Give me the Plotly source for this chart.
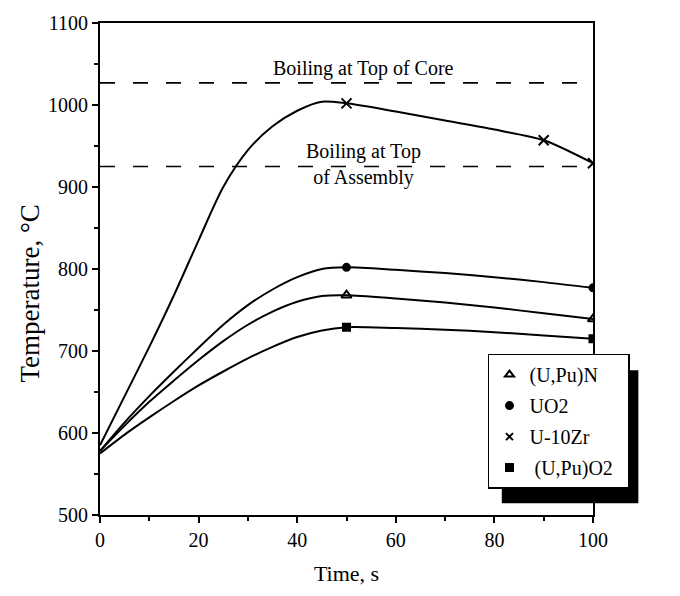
import plotly.graph_objects as go

# ---- data ----
time_s = [0, 5, 10, 15, 20, 25, 30, 35, 40, 45, 50, 60, 70, 80, 90, 100]
u10zr = [585, 645, 705, 768, 835, 900, 945, 974, 993, 1004, 1002, 992, 981, 970, 957, 929]
uo2 = [578, 613, 645, 675, 704, 732, 756, 775, 790, 800, 802, 799, 795, 790, 784, 777]
upun = [578, 609, 638, 664, 689, 712, 732, 748, 760, 767, 768, 764, 759, 753, 746, 739]
upuo2 = [575, 598, 619, 639, 658, 675, 691, 705, 717, 725, 729, 728, 726, 723, 719, 715]

zr_marker_t = [50, 90, 100]
other_marker_t = [50, 100]

boiling_levels = [1027, 925]
boiling_labels = ["Boiling at Top of Core", "Boiling at Top<br>of Assembly"]
boiling_label_pos = [(53.5, 1045), (53.5, 927)]

legend_names = ["(U,Pu)N", "UO2", "U-10Zr", " (U,Pu)O2\u00a0\u00a0"]

x_ticks = [0, 20, 40, 60, 80, 100]
y_ticks = [500, 600, 700, 800, 900, 1000, 1100]

FONT = "Liberation Serif, Times New Roman, serif"


def pick(ts, series):
    return [series[time_s.index(t)] for t in ts]


fig = go.Figure()

curves = [
    (u10zr, zr_marker_t, "x-thin", 10),
    (uo2, other_marker_t, "circle", 7),
    (upun, other_marker_t, "triangle-up-open", 9),
    (upuo2, other_marker_t, "square", 7),
]

for series, mts, sym, sz in curves:
    fig.add_trace(go.Scatter(
        x=time_s, y=series, mode="lines",
        line=dict(color="black", width=2, shape="spline", smoothing=0.8),
        showlegend=False, hoverinfo="skip"))
    fig.add_trace(go.Scatter(
        x=mts, y=pick(mts, series), mode="markers",
        marker=dict(symbol=sym, size=sz, color="black",
                    line=dict(color="black", width=2)),
        showlegend=False))

# legend-only traces
legend_syms = [("triangle-up-open", 8), ("circle", 7), ("x-thin", 7), ("square", 7)]
for i, (name, (sym, sz)) in enumerate(zip(legend_names, legend_syms)):
    fig.add_trace(go.Scatter(
        x=[None], y=[None], mode="markers", name=name, legendgroup=str(i),
        marker=dict(symbol=sym, size=sz, color="black",
                    line=dict(color="black", width=2))))

shapes = []
for lvl in boiling_levels:
    shapes.append(dict(type="line", xref="paper", x0=0, x1=1, yref="y", y0=lvl, y1=lvl,
                       line=dict(color="black", width=1.6, dash="15px,18px")))
# legend shadow
shapes.append(dict(type="rect", xref="paper", yref="paper",
                   x0=0.815, x1=1.092, y0=0.024, y1=0.294,
                   fillcolor="black", line=dict(width=0), layer="above"))

annotations = []
for txt, (ax_, ay_) in zip(boiling_labels, boiling_label_pos):
    annotations.append(dict(x=ax_, y=ay_, xref="x", yref="y", text=txt,
                            showarrow=False, font=dict(family=FONT, size=20, color="black")))
# y-axis title (placed as in the reference, slightly below centre)
annotations.append(dict(x=-0.142, y=0.45, xref="paper", yref="paper",
                        text="Temperature, °C", textangle=-90, showarrow=False,
                        xanchor="center", yanchor="middle",
                        font=dict(family=FONT, size=27, color="black")))

fig.update_layout(
    width=680, height=596,
    margin=dict(l=100, r=87, t=15, b=81),
    paper_bgcolor="white", plot_bgcolor="white",
    font=dict(family=FONT, size=18, color="black"),
    shapes=shapes, annotations=annotations,
    showlegend=True,
    legend=dict(x=0.787, y=0.328, xanchor="left", yanchor="top",
                bgcolor="white", bordercolor="black", borderwidth=1.5,
                font=dict(family=FONT, size=20, color="black"),
                tracegroupgap=2, itemwidth=30),
)

fig.update_xaxes(range=[0, 100], tickvals=x_ticks, ticks="outside", ticklen=6,
                 tickwidth=1.5, tickcolor="black",
                 minor=dict(dtick=10, ticks="outside", ticklen=4, tickcolor="black"),
                 showline=True, linecolor="black", linewidth=2, mirror=True,
                 showgrid=False, zeroline=False,
                 title=dict(text="Time, s", font=dict(family=FONT, size=22), standoff=16),
                 tickfont=dict(family=FONT, size=20))
fig.update_yaxes(range=[500, 1100], tickvals=y_ticks, ticks="outside", ticklen=6,
                 tickwidth=1.5, tickcolor="black",
                 minor=dict(dtick=50, ticks="outside", ticklen=4, tickcolor="black"),
                 showline=True, linecolor="black", linewidth=2, mirror=True,
                 showgrid=False, zeroline=False,
                 tickfont=dict(family=FONT, size=20))

fig.write_html("out.html")
